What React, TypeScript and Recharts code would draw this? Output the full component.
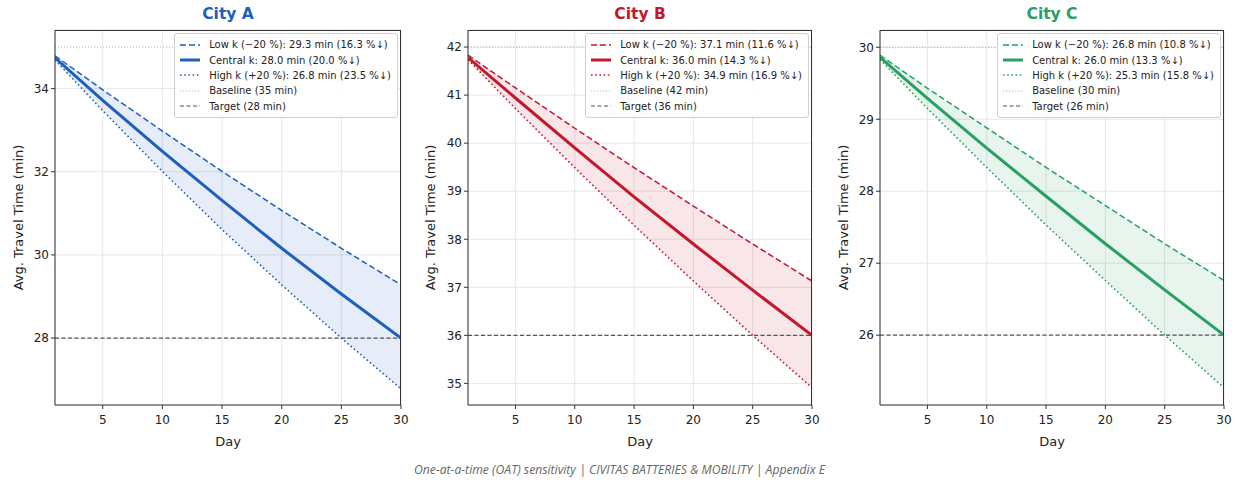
import { Area, CartesianGrid, ComposedChart, Line, ReferenceLine, XAxis, YAxis } from "recharts"

// Days sampled along each curve
const DAYS = [1, 5, 10, 15, 20, 25, 30]

// City A (baseline 35, target 28)
const A_LOW = [34.79, 33.97, 32.98, 32.01, 31.07, 30.16, 29.28]
const A_CENTRAL = [34.74, 33.72, 32.49, 31.31, 30.16, 29.06, 28.0]
const A_HIGH = [34.69, 33.47, 32.01, 30.61, 29.28, 28.0, 26.78]

// City B (baseline 42, target 36)
const B_LOW = [41.83, 41.15, 40.31, 39.49, 38.69, 37.9, 37.13]
const B_CENTRAL = [41.78, 40.94, 39.9, 38.88, 37.9, 36.94, 36.0]
const B_HIGH = [41.74, 40.72, 39.49, 38.29, 37.13, 36.0, 34.91]

// City C (baseline 30, target 26)
const C_LOW = [29.89, 29.43, 28.88, 28.33, 27.8, 27.27, 26.76]
const C_CENTRAL = [29.86, 29.29, 28.6, 27.93, 27.27, 26.63, 26.0]
const C_HIGH = [29.83, 29.15, 28.33, 27.53, 26.76, 26.0, 25.27]

const X_TICKS = [5, 10, 15, 20, 25, 30]

const FONT = "'DejaVu Sans', sans-serif"

interface Panel {
    title: string
    color: string
    plotLeft: number
    plotWidth: number
    yLabelOffset: number
    low: number[]
    central: number[]
    high: number[]
    baseline: number
    target: number
    yDomain: [number, number]
    yTicks: number[]
    legend: string[]
}

const PANELS: Panel[] = [
    {
        title: "City A",
        color: "#1c5fbf",
        plotLeft: 55,
        plotWidth: 346,
        yLabelOffset: 18,
        low: A_LOW,
        central: A_CENTRAL,
        high: A_HIGH,
        baseline: 35,
        target: 28,
        yDomain: [26.39, 35.41],
        yTicks: [28, 30, 32, 34],
        legend: [
            "Low k (\u221220 %): 29.3 min (16.3 %\u2193)",
            "Central k: 28.0 min (20.0 %\u2193)",
            "High k (+20 %): 26.8 min (23.5 %\u2193)",
            "Baseline (35 min)",
            "Target (28 min)",
        ],
    },
    {
        title: "City B",
        color: "#c4172c",
        plotLeft: 468,
        plotWidth: 344,
        yLabelOffset: 17,
        low: B_LOW,
        central: B_CENTRAL,
        high: B_HIGH,
        baseline: 42,
        target: 36,
        yDomain: [34.55, 42.355],
        yTicks: [35, 36, 37, 38, 39, 40, 41, 42],
        legend: [
            "Low k (\u221220 %): 37.1 min (11.6 %\u2193)",
            "Central k: 36.0 min (14.3 %\u2193)",
            "High k (+20 %): 34.9 min (16.9 %\u2193)",
            "Baseline (42 min)",
            "Target (36 min)",
        ],
    },
    {
        title: "City C",
        color: "#27a062",
        plotLeft: 880,
        plotWidth: 344,
        yLabelOffset: 18,
        low: C_LOW,
        central: C_CENTRAL,
        high: C_HIGH,
        baseline: 30,
        target: 26,
        yDomain: [25.03, 30.24],
        yTicks: [26, 27, 28, 29, 30],
        legend: [
            "Low k (\u221220 %): 26.8 min (10.8 %\u2193)",
            "Central k: 26.0 min (13.3 %\u2193)",
            "High k (+20 %): 25.3 min (15.8 %\u2193)",
            "Baseline (30 min)",
            "Target (26 min)",
        ],
    },
]

const PLOT_TOP = 30
const PLOT_BOTTOM = 405
const Y_AXIS_W = 55
const X_AXIS_H = 40
const CHART_H = 482

function LegendSample({ color, width, dash }: { color: string; width: number; dash?: string }) {
    return (
        <svg width={22} height={10} style={{ display: "block" }}>
            <line x1={1} y1={5} x2={21} y2={5} stroke={color} strokeWidth={width} strokeDasharray={dash} />
        </svg>
    )
}

function CityPanel({ p }: { p: Panel }) {
    const data = DAYS.map((day, i) => ({
        day,
        low: p.low[i],
        central: p.central[i],
        high: p.high[i],
    }))
    const chartLeft = p.plotLeft - Y_AXIS_W
    const chartW = Y_AXIS_W + p.plotWidth + 10
    const samples = [
        { color: p.color, width: 1.6, dash: "6 3" },
        { color: p.color, width: 3 },
        { color: p.color, width: 1.6, dash: "1.6 2.6" },
        { color: "#b5b5b5", width: 1, dash: "1.2 1.8" },
        { color: "#555", width: 1.2, dash: "4 2.5" },
    ]

    return (
        <>
            <div
                style={{
                    position: "absolute",
                    left: p.plotLeft,
                    top: 5,
                    width: p.plotWidth,
                    textAlign: "center",
                    fontFamily: FONT,
                    fontWeight: "bold",
                    fontSize: 15.5,
                    color: p.color,
                }}
            >
                {p.title}
            </div>
            <div style={{ position: "absolute", left: chartLeft, top: 0 }}>
                <ComposedChart
                    width={chartW}
                    height={CHART_H}
                    data={data}
                    margin={{ top: PLOT_TOP, right: 10, left: 0, bottom: CHART_H - PLOT_BOTTOM - X_AXIS_H }}
                    style={{ fontFamily: FONT }}
                >
                    <CartesianGrid stroke="#e6e6e6" strokeWidth={1} />
                    <XAxis
                        dataKey="day"
                        type="number"
                        domain={[1, 30]}
                        ticks={X_TICKS}
                        allowDataOverflow
                        height={X_AXIS_H}
                        tickSize={4}
                        tickMargin={6}
                        tick={{ fontSize: 12, fill: "#222" }}
                        stroke="#333"
                        label={{ value: "Day", position: "insideBottom", offset: -1, fontSize: 13, fill: "#222" }}
                    />
                    <YAxis
                        type="number"
                        domain={p.yDomain}
                        ticks={p.yTicks}
                        allowDataOverflow
                        width={Y_AXIS_W}
                        tickSize={4}
                        tick={{ fontSize: 12, fill: "#222" }}
                        stroke="#333"
                        label={{
                            value: "Avg. Travel Time (min)",
                            angle: -90,
                            position: "insideLeft",
                            offset: p.yLabelOffset,
                            fontSize: 13,
                            fill: "#222",
                            style: { textAnchor: "middle" },
                        }}
                    />
                    <Area
                        dataKey={(d: { low: number; high: number }) => [d.high, d.low]}
                        stroke="none"
                        fill={p.color}
                        fillOpacity={0.11}
                        isAnimationActive={false}
                    />
                    <ReferenceLine y={p.baseline} stroke="#b5b5b5" strokeWidth={1} strokeDasharray="1.2 1.8" />
                    <ReferenceLine y={p.target} stroke="#555" strokeWidth={1.2} strokeDasharray="4 2.5" />
                    <Line dataKey="low" stroke={p.color} strokeWidth={1.5} strokeDasharray="6 3" dot={false} isAnimationActive={false} />
                    <Line dataKey="central" stroke={p.color} strokeWidth={3} dot={false} isAnimationActive={false} />
                    <Line dataKey="high" stroke={p.color} strokeWidth={1.6} strokeDasharray="1.6 2.6" dot={false} isAnimationActive={false} />
                </ComposedChart>
            </div>
            {/* frame around the plot area */}
            <div
                style={{
                    position: "absolute",
                    left: p.plotLeft,
                    top: PLOT_TOP,
                    width: p.plotWidth - 1,
                    height: PLOT_BOTTOM - PLOT_TOP - 1,
                    border: "1px solid #333",
                    borderLeft: "none",
                    borderBottom: "none",
                    pointerEvents: "none",
                }}
            />
            <div
                style={{
                    position: "absolute",
                    right: 1239 - (p.plotLeft + p.plotWidth) + 3,
                    top: PLOT_TOP + 3,
                    padding: "3px 6px 3px 4px",
                    background: "rgba(255,255,255,0.85)",
                    border: "1px solid #d0d0d0",
                    borderRadius: 3,
                    fontFamily: FONT,
                    fontSize: 10,
                    color: "#222",
                }}
            >
                {p.legend.map((text, i) => (
                    <div key={text} style={{ display: "flex", alignItems: "center", height: 15.4 }}>
                        <LegendSample {...samples[i]} />
                        <span style={{ marginLeft: 8, whiteSpace: "nowrap" }}>{text}</span>
                    </div>
                ))}
            </div>
        </>
    )
}

export default function App() {
    return (
        <div style={{ position: "absolute", left: 0, top: 0, width: 1239, height: 482, background: "#fff" }}>
            {PANELS.map((p) => (
                <CityPanel key={p.title} p={p} />
            ))}
            <div
                style={{
                    position: "absolute",
                    left: 0,
                    top: 461,
                    width: 1239,
                    textAlign: "center",
                    fontFamily: "'Open Sans', sans-serif",
                    fontStyle: "italic",
                    fontSize: 12.2,
                    color: "#666",
                }}
            >
                One-at-a-time (OAT) sensitivity | CIVITAS BATTERIES &amp; MOBILITY | Appendix E
            </div>
        </div>
    )
}
